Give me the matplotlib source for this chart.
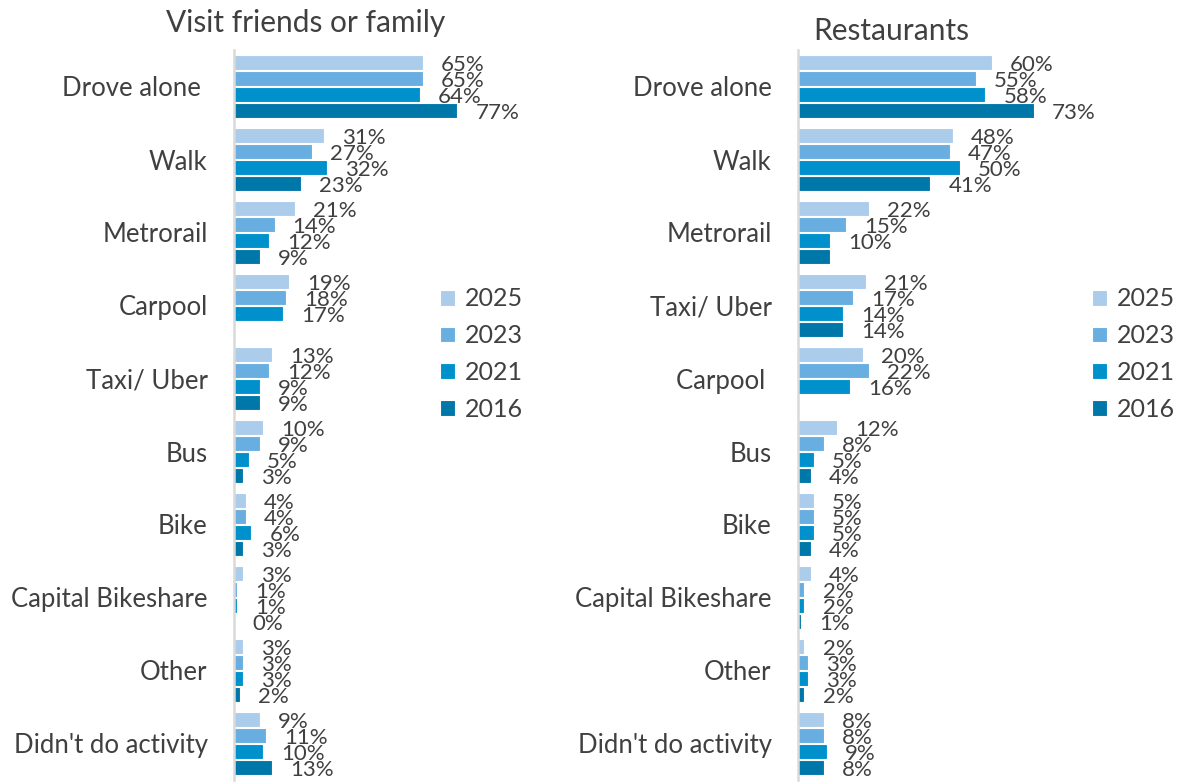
import matplotlib
matplotlib.use("Agg")
import matplotlib.pyplot as plt
import numpy as np

plt.rcParams['font.family'] = ['Lato', 'DejaVu Sans']

# Survey data (percent), None = no bar
years = ['2025', '2023', '2021', '2016']
colors = ['#ABCDEB', '#68AEE0', '#0091CD', '#0077A9']

left_title = 'Visit friends or family'
left_cats = ['Drove alone ', 'Walk', 'Metrorail', 'Carpool', 'Taxi/ Uber', 'Bus',
             'Bike', 'Capital Bikeshare', 'Other', "Didn't do activity"]
left_2025 = [65, 31, 21, 19, 13, 10, 4, 3, 3, 9]
left_2023 = [65, 27, 14, 18, 12, 9, 4, 1, 3, 11]
left_2021 = [64, 32, 12, 17, 9, 5, 6, 1, 3, 10]
left_2016 = [77, 23, 9, None, 9, 3, 3, 0, 2, 13]

right_title = 'Restaurants'
right_cats = ['Drove alone', 'Walk', 'Metrorail', 'Taxi/ Uber', 'Carpool ', 'Bus',
              'Bike', 'Capital Bikeshare', 'Other', "Didn't do activity"]
right_2025 = [60, 48, 22, 21, 20, 12, 5, 4, 2, 8]
right_2023 = [55, 47, 15, 17, 22, 8, 5, 2, 3, 8]
right_2021 = [58, 50, 10, 14, 16, 5, 5, 2, 3, 9]
right_2016 = [73, 41, 10, 14, None, 4, 4, 1, 2, 8]
# label not shown in the original for (category index, year index)
right_hidden = [(2, 3)]

W, H = 1185, 782
fig = plt.figure(figsize=(W / 100, H / 100), dpi=100)

txt = '#404040'
offsets = [-0.33, -0.11, 0.11, 0.33]


def draw_panel(rect, cats, series, hidden, xmax):
    ax = fig.add_axes(rect)
    y = np.arange(len(cats))
    for k, vals in enumerate(series):
        for i, v in enumerate(vals):
            if v is None:
                continue
            ax.barh(y[i] + offsets[k], v, height=0.2, color=colors[k],
                    edgecolor='white', linewidth=0.8,
                    label=years[k] if i == 0 else None)
            if (i, k) in hidden:
                continue
            ax.annotate('%d%%' % v, (v, y[i] + offsets[k]), xytext=(13, -2),
                        textcoords='offset points', ha='left', va='center',
                        fontsize=16, color=txt)
    ax.set_xlim(0, xmax)
    ax.set_ylim(len(cats) - 0.5, -0.5)
    ax.set_yticks(y)
    ax.set_yticklabels(cats, fontsize=18.5, color=txt)
    ax.tick_params(axis='y', length=0, pad=19)
    ax.set_xticks([])
    for s in ['top', 'right', 'bottom']:
        ax.spines[s].set_visible(False)
    ax.spines['left'].set_color('#D9D9D9')
    ax.spines['left'].set_linewidth(1.8)
    return ax


bottom = 2 / H
height = 730 / H

axl = draw_panel([234 / W, bottom, 290 / W, height], left_cats,
                 [left_2025, left_2023, left_2021, left_2016], [], 100)
axr = draw_panel([798 / W, bottom, 323 / W, height], right_cats,
                 [right_2025, right_2023, right_2021, right_2016], right_hidden, 100)

for ax, lx in [(axl, 427), (axr, 1079)]:
    leg = fig.legend(*ax.get_legend_handles_labels(), loc='upper left',
                     bbox_to_anchor=(lx / W, 1 - 275 / H), frameon=False,
                     fontsize=18, handlelength=0.6, handleheight=0.6,
                     handletextpad=0.4, labelspacing=0.55, borderpad=0)
    for t in leg.get_texts():
        t.set_color(txt)

fig.text(306 / W, 1 - 23 / H, left_title, ha='center', va='center',
         fontsize=21.5, color=txt)
fig.text(891 / W, 1 - 31 / H, right_title, ha='center', va='center',
         fontsize=21.5, color=txt)

fig.savefig('out.png', dpi=100)
